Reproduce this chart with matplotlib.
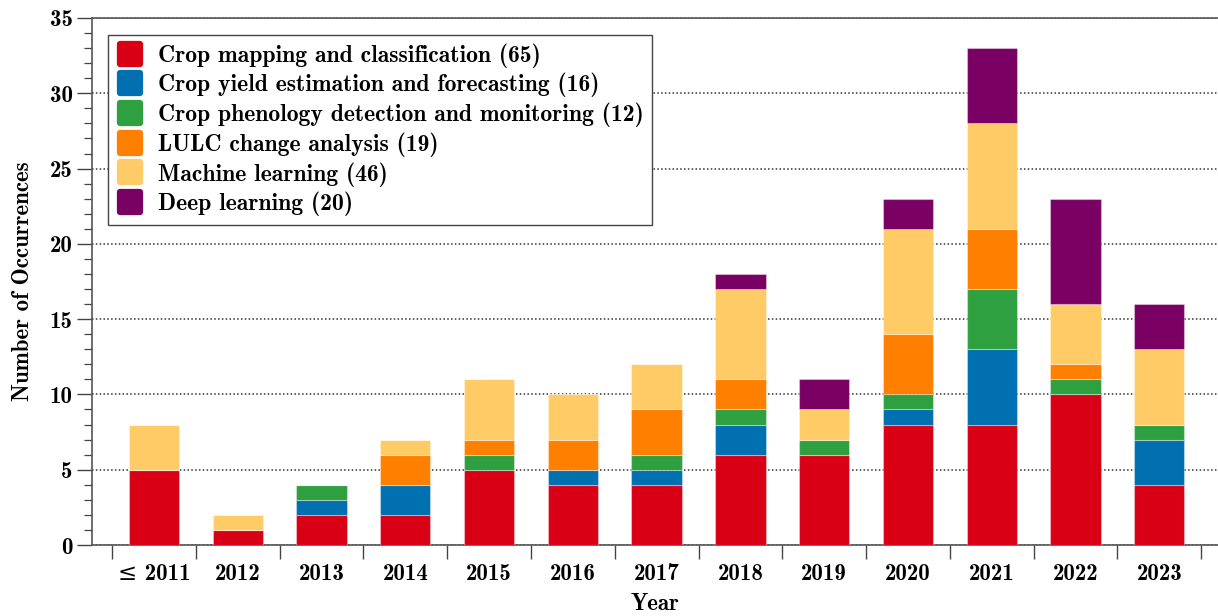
import matplotlib
matplotlib.use("Agg")
import matplotlib.pyplot as plt
from matplotlib.lines import Line2D
from matplotlib.markers import MarkerStyle
import numpy as np

years = ["≤ 2011", "2012", "2013", "2014", "2015", "2016", "2017",
         "2018", "2019", "2020", "2021", "2022", "2023"]
crop_mapping = [5, 1, 2, 2, 5, 4, 4, 6, 6, 8, 8, 10, 4]
crop_yield = [0, 0, 1, 2, 0, 1, 1, 2, 0, 1, 5, 0, 3]
crop_phenology = [0, 0, 1, 0, 1, 0, 1, 1, 1, 1, 4, 1, 1]
lulc = [0, 0, 0, 2, 1, 2, 3, 2, 0, 4, 4, 1, 0]
machine_learning = [3, 1, 0, 1, 4, 3, 3, 6, 2, 7, 7, 4, 5]
deep_learning = [0, 0, 0, 0, 0, 0, 0, 1, 2, 2, 5, 7, 3]

series_labels = ["Crop mapping and classification (65)",
                 "Crop yield estimation and forecasting (16)",
                 "Crop phenology detection and monitoring (12)",
                 "LULC change analysis (19)",
                 "Machine learning (46)",
                 "Deep learning (20)"]
series_values = [crop_mapping, crop_yield, crop_phenology, lulc,
                 machine_learning, deep_learning]
colors = ["#D90016", "#0070B0", "#2FA03F", "#FF7F00", "#FFCB66", "#7A0063"]

FONT = ["cmb10", "DejaVu Serif"]
plt.rcParams["font.family"] = FONT
plt.rcParams["axes.unicode_minus"] = False
plt.rcParams["axes.formatter.use_mathtext"] = False

fig = plt.figure(figsize=(12.18, 6.16), dpi=100)
ax = fig.add_axes([92 / 1218, (616 - 545) / 616, 1 - 92 / 1218, (545 - 18) / 616])

x = np.arange(len(years))
bottom = np.zeros(len(years))
for vals, col, lab in zip(series_values, colors, series_labels):
    v = np.array(vals, dtype=float)
    ax.bar(x, v, 0.6, bottom=bottom, color=col, label=lab, zorder=3,
           edgecolor=(1, 1, 1, 0.35), linewidth=0.8)
    bottom += v

ax.set_xlim(-0.739, 12.70)
ax.set_ylim(0, 35)

ax.set_yticks(np.arange(0, 36, 5))
ax.set_yticks(np.arange(0, 36, 1), minor=True)
ax.tick_params(axis="y", which="major", length=11, width=1.0, direction="out",
               labelsize=16.5, pad=3, color="#444444")
ax.tick_params(axis="y", which="minor", length=5.5, width=0.9, direction="out",
               color="#444444")

ax.set_xticks(x)
ax.set_xticklabels(years)
ax.set_xticks(np.arange(-0.5, len(years), 1.0), minor=True)
ax.tick_params(axis="x", which="major", length=0, labelsize=16.5, pad=13)
ax.tick_params(axis="x", which="minor", length=10, width=1.0, direction="out",
               color="#444444")

ax.yaxis.grid(True, which="major", linestyle=(0, (1, 1.5)), color="#333333",
              linewidth=1.1, zorder=0)
ax.set_axisbelow(True)

for s in ["left", "bottom", "top"]:
    ax.spines[s].set_color("#555555")
    ax.spines[s].set_linewidth(1.2)
ax.spines["right"].set_visible(False)

ax.set_ylabel("Number of Occurrences", fontsize=16.5, labelpad=11)
ax.set_xlabel("Year", fontsize=16.5, labelpad=6)

handles = [Line2D([], [], linestyle="none",
                  marker=MarkerStyle("s", joinstyle="round"),
                  markersize=15, markerfacecolor=c, markeredgecolor=c,
                  markeredgewidth=4.5) for c in colors]
leg = ax.legend(handles, series_labels, loc="upper left",
                bbox_to_anchor=(16 / 1126, 1 - 17 / 527),
                fontsize=17, frameon=True, fancybox=False, framealpha=1,
                edgecolor="#444444", borderpad=0.35, labelspacing=0.22,
                handlelength=1.2, handletextpad=0.55, borderaxespad=0)
leg.get_frame().set_linewidth(1.0)

fig.savefig("out.png", dpi=100)
